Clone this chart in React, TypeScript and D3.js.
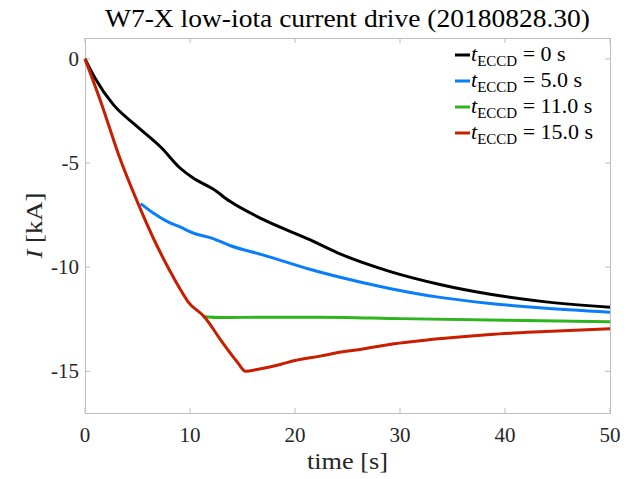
import * as d3 from "d3";
import { useEffect, useRef } from "react";

// t_ECCD = 0 s
const blackT = [0, 0.95, 2.7, 4.76, 7.3, 9.05, 10.3, 12.2, 13.8, 17.0, 21.4, 24, 29, 33.8, 38.6, 43.3, 50];
const blackI = [0, -0.92, -2.2, -3.16, -4.28, -5.24, -5.72, -6.25, -6.84, -7.72, -8.68, -9.3, -10.2, -10.83, -11.3, -11.63, -11.92];

// t_ECCD = 5.0 s
const blueT = [5.3, 6.5, 8, 9.05, 10.3, 12.2, 13.8, 17.0, 21.4, 24, 29, 33.8, 38.6, 43.3, 50];
const blueI = [-6.95, -7.4, -7.85, -8.07, -8.36, -8.63, -8.96, -9.42, -10.1, -10.45, -11.02, -11.45, -11.74, -11.95, -12.16];

// t_ECCD = 11.0 s
const greenT = [11.2, 13, 17, 22.4, 30, 40, 50];
const greenI = [-12.38, -12.42, -12.4, -12.4, -12.47, -12.55, -12.62];

// t_ECCD = 15.0 s
const redT = [0, 1.6, 3.2, 5.1, 6.5, 8.0, 9.0, 9.8, 11.4, 13.0, 14.5, 15.3, 16.5, 18.6, 20, 22.4, 24, 26.2, 29, 34, 38.6, 43.3, 50];
const redI = [0, -2.2, -4.6, -7.0, -8.6, -10.1, -11.0, -11.65, -12.4, -13.55, -14.55, -15.0, -14.9, -14.67, -14.48, -14.27, -14.11, -13.95, -13.71, -13.42, -13.23, -13.1, -12.96];

const legendLabels = ["0", "5.0", "11.0", "15.0"];
const xTicks = [0, 10, 20, 30, 40, 50];
const yTicks = [0, -5, -10, -15];

const series = [
  { t: blackT, i: blackI, color: "#000000" },
  { t: blueT, i: blueI, color: "#0a7dfa" },
  { t: greenT, i: greenI, color: "#2db41e" },
  { t: redT, i: redI, color: "#c81e00" },
];

const FONT = "'Liberation Serif', 'DejaVu Serif', serif";

export default function App() {
  const ref = useRef<SVGSVGElement | null>(null);

  useEffect(() => {
    const svg = d3.select(ref.current);
    svg.selectAll("*").remove();

    const left = 85, right = 610, top = 38, bottom = 413;
    const x = d3.scaleLinear().domain([0, 50]).range([left, right]);
    const y = d3.scaleLinear().domain([-17, 1]).range([bottom, top]);

    const axisColor = "#bdbdbd";
    const textColor = "#262626";
    const tl = 5;

    const g = svg.append("g");

    // ticks on all four sides (box on)
    xTicks.forEach((v) => {
      g.append("line").attr("x1", x(v)).attr("x2", x(v)).attr("y1", bottom).attr("y2", bottom - tl).attr("stroke", axisColor);
      g.append("line").attr("x1", x(v)).attr("x2", x(v)).attr("y1", top).attr("y2", top + tl).attr("stroke", axisColor);
      g.append("text")
        .attr("x", x(v))
        .attr("y", 442)
        .attr("text-anchor", "middle")
        .attr("fill", textColor)
        .style("font-family", FONT)
        .style("font-size", "21px")
        .text(v);
    });
    yTicks.forEach((v) => {
      g.append("line").attr("x1", left).attr("x2", left + tl).attr("y1", y(v)).attr("y2", y(v)).attr("stroke", axisColor);
      g.append("line").attr("x1", right).attr("x2", right - tl).attr("y1", y(v)).attr("y2", y(v)).attr("stroke", axisColor);
      g.append("text")
        .attr("x", 79)
        .attr("y", y(v) + 7)
        .attr("text-anchor", "end")
        .attr("fill", textColor)
        .style("font-family", FONT)
        .style("font-size", "21px")
        .text(String(v));
    });

    g.append("rect")
      .attr("x", left + 0.5)
      .attr("y", top + 0.5)
      .attr("width", right - left)
      .attr("height", bottom - top)
      .attr("fill", "none")
      .attr("stroke", axisColor);

    const line = d3
      .line<[number, number]>()
      .x((d) => x(d[0]))
      .y((d) => y(d[1]))
      .curve(d3.curveMonotoneX);

    series.forEach((s) => {
      const pts = s.t.map((t, k) => [t, s.i[k]] as [number, number]);
      g.append("path")
        .attr("d", line(pts) || "")
        .attr("fill", "none")
        .attr("stroke", s.color)
        .attr("stroke-width", 3)
        .attr("stroke-linejoin", "round");
    });

    // legend
    const leg = g.append("g");
    series.forEach((s, k) => {
      const ly = 55 + k * 26;
      leg.append("line").attr("x1", 455).attr("x2", 470).attr("y1", ly).attr("y2", ly).attr("stroke", s.color).attr("stroke-width", 3);
      const t = leg
        .append("text")
        .attr("x", 471)
        .attr("y", ly + 6)
        .attr("fill", "#000")
        .style("font-family", FONT)
        .style("font-size", "22px");
      t.append("tspan").style("font-style", "italic").text("t");
      t.append("tspan").attr("dy", 5).style("font-size", "15px").text("ECCD");
      t.append("tspan").attr("dy", -5).text(` = ${legendLabels[k]} s`);
    });

    // title
    g.append("text")
      .attr("x", (left + right) / 2)
      .attr("y", 27)
      .attr("text-anchor", "middle")
      .attr("fill", "#000")
      .attr("textLength", 485)
      .attr("lengthAdjust", "spacingAndGlyphs")
      .style("font-family", FONT)
      .style("font-size", "25px")
      .text("W7-X low-iota current drive (20180828.30)");

    // x label
    g.append("text")
      .attr("x", (left + right) / 2)
      .attr("y", 469)
      .attr("text-anchor", "middle")
      .attr("fill", textColor)
      .attr("textLength", 81)
      .attr("lengthAdjust", "spacingAndGlyphs")
      .style("font-family", FONT)
      .style("font-size", "24px")
      .text("time [s]");

    // y label
    const yl = g
      .append("text")
      .attr("transform", `translate(42, ${(top + bottom) / 2}) rotate(-90)`)
      .attr("text-anchor", "middle")
      .attr("fill", textColor)
      .attr("textLength", 66)
      .attr("lengthAdjust", "spacingAndGlyphs")
      .style("font-family", FONT)
      .style("font-size", "24px");
    yl.append("tspan").style("font-style", "italic").text("I");
    yl.append("tspan").text(" [kA]");
  }, []);

  return (
    <svg
      ref={ref}
      width={640}
      height={479}
      style={{ position: "absolute", left: 0, top: 0, background: "#fff" }}
    ></svg>
  );
}
